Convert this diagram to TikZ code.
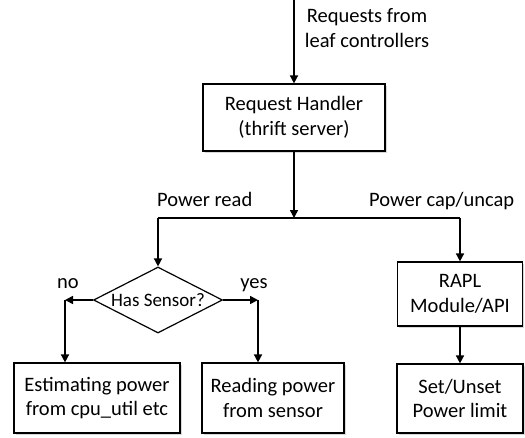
\documentclass[tikz,border=0pt]{standalone}
\usepackage{fontspec}
\setmainfont{Carlito}
\usetikzlibrary{arrows.meta,shapes.geometric,shadows}
\begin{document}
\begin{tikzpicture}[x=1pt,y=-1pt,
  txt/.style={font=\fontsize{20.5}{24.5}\selectfont, align=center, inner sep=0pt},
  boxnode/.style={txt, draw, line width=1.2pt, fill=white,
    drop shadow={shadow xshift=1.6pt, shadow yshift=-1.6pt, opacity=0.3}},
  decision/.style={diamond, draw, line width=1.2pt, fill=white, inner sep=0pt,
    font=\fontsize{19}{23}\selectfont},
  conn/.style={line width=1.6pt},
  arr/.style={conn, -{Triangle[length=8pt,width=8pt]}}
]
\useasboundingbox (0,0) rectangle (525,437);

% boxes
\node[boxnode, minimum width=182pt, minimum height=67pt] (rh) at (294,117.5) {Request Handler\\(thrift server)};
\node[decision, minimum width=129pt, minimum height=66pt] (dia) at (158,300) {\makebox[0pt]{Has Sensor?}};
\node[boxnode, minimum width=166pt, minimum height=70pt] (est) at (97,398) {Estimating power\\from cpu\_util etc};
\node[boxnode, minimum width=142pt, minimum height=70pt] (rd) at (273,398) {Reading power\\from sensor};
\node[boxnode, minimum width=125pt, minimum height=64pt] (rapl) at (460,294) {RAPL\\Module/API};
\node[boxnode, minimum width=126pt, minimum height=69pt] (set) at (460,398.5) {Set/Unset\\Power limit};

% labels
\node[txt, anchor=center] (req) at (367,28) {Requests from\\leaf controllers};
\node[txt, anchor=base west] (pread) at (157,206) {Power read};
\node[txt, anchor=base west] (pcap) at (369,206) {Power cap/uncap};
\node[txt, anchor=base] (lno) at (68,288) {no};
\node[txt, anchor=base] (lyes) at (254,288) {yes};

% coordinates
\coordinate (top) at (294,0);
\coordinate (j) at (294,218);
\coordinate (jl) at (158,218);
\coordinate (jr) at (460,218);
\coordinate (nc) at (65,300);
\coordinate (yc) at (258,300);

% connectors
\draw[arr] (top) -- (rh.north);
\draw[arr] (rh.south) -- (j);
\draw[conn] (jl) -- (jr);
\draw[arr] (jl) -- (dia.north);
\draw[arr] (jr) -- (rapl.north);
\draw[arr] (dia.west) -- (nc);
\draw[arr] (nc) -- (est.north -| nc);
\draw[arr] (dia.east) -- (yc);
\draw[arr] (yc) -- (rd.north -| yc);
\draw[arr] (rapl.south) -- (set.north);
\end{tikzpicture}
\end{document}
